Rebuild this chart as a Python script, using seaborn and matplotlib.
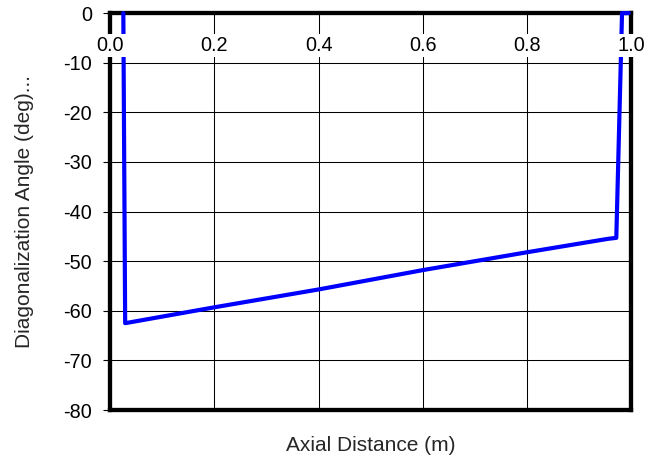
import matplotlib
matplotlib.use("Agg")
import matplotlib.pyplot as plt
import seaborn as sns
import pandas as pd

# Diagonalization angle along the axial direction
axial_distance = [0.0255, 0.029, 0.2, 0.4, 0.6, 0.8, 0.955, 0.971, 0.982, 0.995]
diag_angle = [0.0, -62.5, -59.3, -55.7, -51.8, -48.2, -45.5, -45.3, 0.0, 0.0]

x_ticks = [0.0, 0.2, 0.4, 0.6, 0.8, 1.0]
x_tick_labels = ["0.0", "0.2", "0.4", "0.6", "0.8", "1.0"]
y_ticks = [0, -10, -20, -30, -40, -50, -60, -70, -80]
y_tick_labels = ["0", "-10", "-20", "-30", "-40", "-50", "-60", "-70", "-80"]

sns.set_style("white")
plt.rcParams["font.family"] = ["Liberation Sans", "DejaVu Sans"]

TICK_FS = 14.3
LABEL_FS = 15

df = pd.DataFrame({"x": axial_distance, "y": diag_angle})

fig = plt.figure(figsize=(6.55, 4.61), dpi=100)
ax = fig.add_axes([0.168, 0.1106, 0.796, 0.861])

sns.lineplot(data=df, x="x", y="y", sort=False, estimator=None,
             color="#0000ff", linewidth=3.0, ax=ax, zorder=5,
             clip_on=False, solid_joinstyle="round", solid_capstyle="round")

ax.set_xlim(0, 1)
ax.set_ylim(-80, 0)
ax.set_xticks(x_ticks)
ax.set_yticks(y_ticks)
ax.set_yticklabels(y_tick_labels)

ax.grid(True, color="black", linewidth=0.75)
ax.set_axisbelow(True)

for side in ["left", "right", "top", "bottom"]:
    ax.spines[side].set_visible(True)
    ax.spines[side].set_color("black")
    ax.spines[side].set_linewidth(3.1)
    ax.spines[side].set_zorder(4)

ax.tick_params(axis="x", top=False, bottom=False, labeltop=False,
               labelbottom=False, length=0)
ax.tick_params(axis="y", left=True, right=False, direction="out",
               length=5, width=0.8, pad=8, labelsize=TICK_FS, colors="black")

ax.set_xlabel("Axial Distance (m)", fontsize=LABEL_FS, labelpad=19)
ax.set_ylabel("Diagonalization Angle (deg)...", fontsize=LABEL_FS, labelpad=21)

# x tick labels sit just under the zero line, on white boxes above the frame
ax_top = ax.twiny()
ax_top.set_zorder(ax.get_zorder() + 1)
ax_top.patch.set_visible(False)
ax_top.set_xlim(ax.get_xlim())
ax_top.set_xticks(x_ticks)
ax_top.set_xticklabels(x_tick_labels)
for side in ax_top.spines.values():
    side.set_visible(False)
ax_top.grid(False)
ax_top.tick_params(axis="x", top=True, bottom=False, labeltop=True,
                   labelbottom=False, direction="in", length=0, pad=-30,
                   labelsize=TICK_FS, colors="black")
for lab in ax_top.get_xticklabels():
    lab.set_bbox(dict(facecolor="white", edgecolor="none", pad=1.5))

fig.savefig("out.png", dpi=100)
